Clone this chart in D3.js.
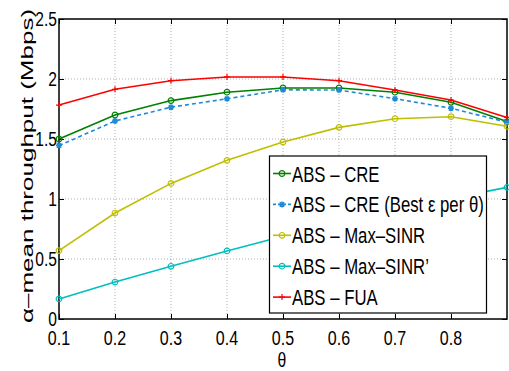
<!DOCTYPE html>
<html><head><meta charset="utf-8">
<script src="https://cdn.jsdelivr.net/npm/d3@7"></script>
<style>
body{margin:0;background:#fff;}
text{font-family:"Liberation Sans",Arial,sans-serif;fill:#000;}
</style></head>
<body><svg id="c" width="509" height="371"></svg>
<script>
const theta = [0.1,0.2,0.3,0.4,0.5,0.6,0.7,0.8,0.9];
const absCre = [1.50,1.70,1.82,1.89,1.925,1.925,1.89,1.806,1.645];
const absCreBest = [1.445,1.65,1.765,1.835,1.91,1.908,1.836,1.756,1.64];
const absMaxSinr = [0.57,0.883,1.13,1.322,1.475,1.597,1.669,1.686,1.606];
const absMaxSinrP = [0.167,0.308,0.439,0.567,0.69,0.80,0.905,1.005,1.097];
const absFua = [1.783,1.914,1.986,2.017,2.017,1.986,1.908,1.825,1.68];
const xTicks = [0.1,0.2,0.3,0.4,0.5,0.6,0.7,0.8];
const yTicks = [0,0.5,1,1.5,2,2.5];
const yTickLabels = ["0","0.5","1","1.5","2","2.5"];
const seriesNames = ["ABS \u2013 CRE","ABS \u2013 CRE (Best \u03b5 per \u03b8)","ABS \u2013 Max\u2013SINR","ABS \u2013 Max\u2013SINR\u2019","ABS \u2013 FUA"];

const series = [
  {name:seriesNames[0], v:absCre, color:"#008000", dash:null, marker:"circle"},
  {name:seriesNames[1], v:absCreBest, color:"#1f8ad6", dash:"4,3", marker:"star"},
  {name:seriesNames[2], v:absMaxSinr, color:"#bfbf00", dash:null, marker:"circle"},
  {name:seriesNames[3], v:absMaxSinrP, color:"#00bfbf", dash:null, marker:"circle"},
  {name:seriesNames[4], v:absFua, color:"#ff0000", dash:null, marker:"plus"}
];

const svg = d3.select("#c");
const L=59, R=507, T=19, B=319;
const x = d3.scaleLinear().domain([0.1,0.9]).range([L,R]);
const y = d3.scaleLinear().domain([0,2.5]).range([B,T]);

function sText(parent, px, py, str, size, sx, anchor){
  const gg = parent.append("g").attr("transform",`translate(${px},${py}) scale(${sx},1)`);
  return gg.append("text").attr("text-anchor",anchor||"start").attr("font-size",size).text(str);
}

// grid
const g = svg.append("g");
g.selectAll("line.gx").data(xTicks.slice(1)).enter().append("line")
  .attr("x1",d=>x(d)).attr("x2",d=>x(d)).attr("y1",T).attr("y2",B)
  .attr("stroke","#b0b0b0").attr("stroke-width",1).attr("stroke-dasharray","1,2");
g.selectAll("line.gy").data(yTicks.slice(1,-1)).enter().append("line")
  .attr("x1",L).attr("x2",R).attr("y1",d=>y(d)).attr("y2",d=>y(d))
  .attr("stroke","#b0b0b0").attr("stroke-width",1).attr("stroke-dasharray","1,2");

// axes (ticks)
const xAxis = svg.append("g").attr("transform",`translate(0,${B})`)
  .call(d3.axisBottom(x).tickValues(xTicks).tickSize(-5).tickFormat(""));
const yAxis = svg.append("g").attr("transform",`translate(${L},0)`)
  .call(d3.axisLeft(y).tickValues(yTicks).tickSize(-5).tickFormat(""));
const xTop = svg.append("g").attr("transform",`translate(0,${T})`)
  .call(d3.axisTop(x).tickValues(xTicks).tickSize(-5).tickFormat(""));
const yRight = svg.append("g").attr("transform",`translate(${R},0)`)
  .call(d3.axisRight(y).tickValues(yTicks).tickSize(-5).tickFormat(""));
[xAxis,yAxis,xTop,yRight].forEach(a=>{
  a.select(".domain").remove();
  a.selectAll("line").attr("stroke","#000");
});
// tick labels
xTicks.forEach(t=>{ sText(svg, x(t), 345, d3.format(".1f")(t), 20, 0.8, "middle"); });
yTicks.forEach((t,i)=>{ sText(svg, 57, y(t)+7, yTickLabels[i], 19.5, 0.8, "end"); });

svg.append("rect").attr("x",L).attr("y",T).attr("width",R-L).attr("height",B-T)
  .attr("fill","none").attr("stroke","#000").attr("stroke-width",1.5);

// lines
const line = d3.line().x((d,i)=>x(theta[i])).y(d=>y(d));
function drawMarker(sel, m, color){
  if(m==="circle"){
    sel.append("circle").attr("r",2.8).attr("fill","none").attr("stroke",color).attr("stroke-width",1.2);
  } else if(m==="plus"){
    sel.append("path").attr("d","M-3,0H3M0,-3V3").attr("stroke",color).attr("stroke-width",1.2);
  } else {
    sel.append("path").attr("d","M-3,0H3M0,-3V3M-2.2,-2.2L2.2,2.2M-2.2,2.2L2.2,-2.2").attr("stroke",color).attr("stroke-width",1.5);
  }
}
series.forEach(s=>{
  svg.append("path").datum(s.v).attr("d",line).attr("fill","none")
    .attr("stroke",s.color).attr("stroke-width",1.6).attr("stroke-dasharray",s.dash);
  s.v.forEach((v,i)=>{
    const mk = svg.append("g").attr("transform",`translate(${x(theta[i])},${y(v)})`);
    drawMarker(mk,s.marker,s.color);
  });
});

// legend
const lg = svg.append("g");
lg.append("rect").attr("x",269.5).attr("y",156).attr("width",217).attr("height",157)
  .attr("fill","#fff").attr("stroke","#000").attr("stroke-width",1.2);
series.forEach((s,i)=>{
  const cy = 173.5 + i*30.9;
  lg.append("line").attr("x1",273).attr("x2",291).attr("y1",cy).attr("y2",cy)
    .attr("stroke",s.color).attr("stroke-width",1.6).attr("stroke-dasharray",s.dash?"3,2":null);
  const mk = lg.append("g").attr("transform",`translate(282,${cy})`);
  drawMarker(mk,s.marker,s.color);
  sText(lg, 292, cy+8, s.name, 22.5, 0.745, "start");
});

// axis labels
sText(svg, 282, 367, "\u03b8", 21, 0.75, "middle");
svg.append("text").attr("transform","translate(33,166) scale(0.62,1) rotate(-90)").attr("text-anchor","middle")
  .attr("font-size",26).text("\u03b1\u2013mean throughput (Mbps)");
</script></body></html>
